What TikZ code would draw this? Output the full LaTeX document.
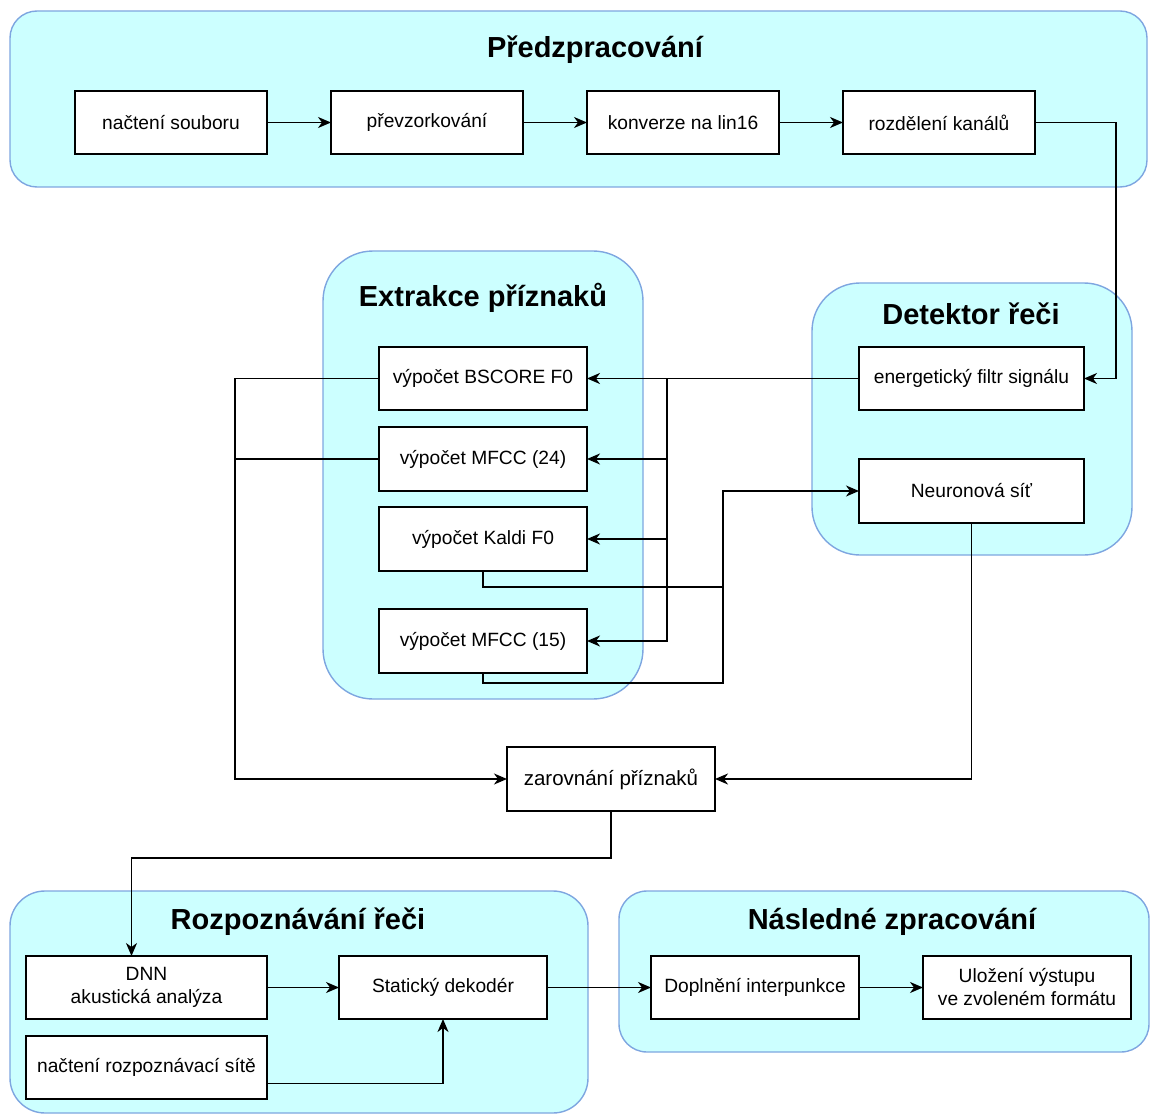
\documentclass[tikz,border=0pt]{standalone}
\usepackage{fontspec}
\setmainfont{Liberation Sans}
\usetikzlibrary{arrows.meta}
\definecolor{grpfill}{HTML}{CCFFFF}
\definecolor{grpline}{HTML}{7EA6E0}
\begin{document}
\begin{tikzpicture}[x=1pt,y=-1pt,
  grp/.style={draw=grpline, fill=grpfill, line width=1.4pt},
  grptitle/.style={font=\fontsize{29}{33}\selectfont\bfseries, inner sep=0pt},
  box/.style={draw=black, fill=white, line width=1.5pt, anchor=north west, inner sep=0pt, outer sep=0pt,
    font=\fontsize{19.2}{23}\selectfont, align=center},
  ln/.style={line width=1.5pt, draw=black},
  arr/.style={ln, -{Stealth[length=13pt,width=11pt,inset=4pt]}}
]
\useasboundingbox (0,0) rectangle (1154,1115);

% groups
\draw[grp, rounded corners=27pt] (10,11) rectangle (1147,187);
\draw[grp, rounded corners=50pt] (323,251) rectangle (643,699);
\draw[grp, rounded corners=48pt] (812,283) rectangle (1132,555);
\draw[grp, rounded corners=35pt] (10,891) rectangle (588,1113);
\draw[grp, rounded corners=28pt] (619,891) rectangle (1149,1052);

% group titles
\node[grptitle] (t1) at (595,50) {Předzpracování};
\node[grptitle] (t2) at (483,298) {Extrakce příznaků};
\node[grptitle] (t3) at (971,314) {Detektor řeči};
\node[grptitle] (t4) at (298,922) {Rozpoznávání řeči};
\node[grptitle] (t5) at (892,922) {Následné zpracování};

% boxes
\node[box, minimum width=192pt, minimum height=63pt] (n1) at (75,91) {načtení souboru};
\node[box, minimum width=192pt, minimum height=63pt] (n2) at (331,91) {převzorkování};
\node[box, minimum width=192pt, minimum height=63pt] (n3) at (587,91) {konverze na lin16};
\node[box, minimum width=192pt, minimum height=63pt] (n4) at (843,91) {rozdělení kanálů};

\node[box, minimum width=208pt, minimum height=63pt] (bs) at (379,347) {výpočet BSCORE F0};
\node[box, minimum width=208pt, minimum height=64pt] (m24) at (379,427) {výpočet MFCC (24)};
\node[box, minimum width=208pt, minimum height=64pt] (kal) at (379,507) {výpočet Kaldi F0};
\node[box, minimum width=208pt, minimum height=64pt] (m15) at (379,609) {výpočet MFCC (15)};

\node[box, minimum width=225pt, minimum height=63pt] (ef) at (859,347) {energetický filtr signálu};
\node[box, minimum width=225pt, minimum height=64pt] (nn) at (859,459) {Neuronová síť};

\node[box, minimum width=208pt, minimum height=64pt, font=\fontsize{20.5}{24}\selectfont] (zar) at (507,747) {zarovnání příznaků};

\node[box, minimum width=241pt, minimum height=63pt] (dnn) at (26,956) {DNN\\akustická analýza};
\node[box, minimum width=208pt, minimum height=63pt] (sd) at (339,956) {Statický dekodér};
\node[box, minimum width=241pt, minimum height=63pt] (nrs) at (26,1036) {načtení rozpoznávací sítě};
\node[box, minimum width=208pt, minimum height=63pt] (dp) at (651,956) {Doplnění interpunkce};
\node[box, minimum width=208pt, minimum height=63pt] (ul) at (923,956) {Uložení výstupu\\ve zvoleném formátu};

% connectors
\draw[arr] (n1.east) -- (n2.west);
\draw[arr] (n2.east) -- (n3.west);
\draw[arr] (n3.east) -- (n4.west);
\draw[arr] (n4.east) -- ++(81,0) |- (ef.east);

\draw[arr] (ef.west) -- (bs.east);
\coordinate (br) at (667,378.5);
\draw[arr] (br) |- (m24.east);
\draw[arr] (br) |- (kal.east);
\draw[arr] (br) |- (m15.east);

\coordinate (jv) at (723,587);
\draw[arr] (kal.south) |- (jv) |- (nn.west);
\draw[ln] (m15.south) |- (723,683) -- (jv);

\coordinate (lv) at (235,459);
\draw[arr] (bs.west) -| (lv) |- (zar.west);
\draw[ln] (m24.west) -- (lv);

\draw[arr] (nn.south) |- (zar.east);
\draw[arr] (zar.south) -- ++(0,47) -| ([xshift=-15pt]dnn.north);

\draw[arr] (dnn.east) -- (sd.west);
\draw[arr] ([yshift=-16pt]nrs.east) -| (sd.south);
\draw[arr] (sd.east) -- (dp.west);
\draw[arr] (dp.east) -- (ul.west);
\end{tikzpicture}
\end{document}
